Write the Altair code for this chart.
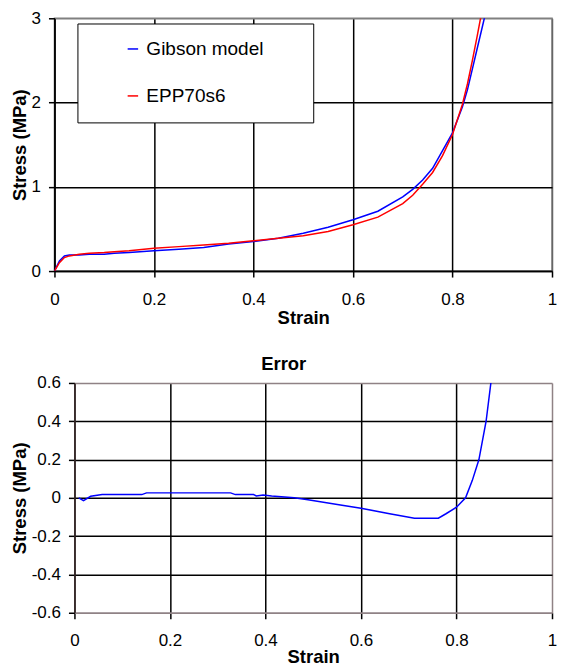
import altair as alt
import pandas as pd

FONT = "Liberation Sans"

# ---- data ----
series_names = ["Gibson model", "EPP70s6"]
series_colors = ["#0000FF", "#FF0000"]

strain_gibson = [0, 0.01, 0.02, 0.03, 0.05, 0.07, 0.1, 0.12, 0.15, 0.2, 0.25, 0.3, 0.35,
                 0.4, 0.45, 0.5, 0.55, 0.6, 0.65, 0.7, 0.72, 0.74, 0.76, 0.78, 0.8,
                 0.82, 0.83, 0.84, 0.85, 0.86, 0.866]
stress_gibson = [0, 0.12, 0.18, 0.19, 0.19, 0.2, 0.2, 0.21, 0.22, 0.24, 0.26, 0.28, 0.32,
                 0.35, 0.39, 0.45, 0.52, 0.61, 0.71, 0.88, 0.97, 1.08, 1.22, 1.43, 1.64,
                 1.95, 2.15, 2.4, 2.65, 2.9, 3.05]

strain_epp = [0, 0.01, 0.02, 0.03, 0.05, 0.07, 0.1, 0.12, 0.15, 0.2, 0.25, 0.3, 0.35,
              0.4, 0.45, 0.5, 0.55, 0.6, 0.65, 0.7, 0.72, 0.74, 0.76, 0.78, 0.8,
              0.82, 0.83, 0.84, 0.85, 0.857]
stress_epp = [0, 0.1, 0.16, 0.18, 0.2, 0.21, 0.22, 0.23, 0.24, 0.27, 0.29, 0.31, 0.33,
              0.36, 0.39, 0.42, 0.47, 0.55, 0.64, 0.8, 0.9, 1.03, 1.17, 1.37, 1.62,
              1.98, 2.22, 2.5, 2.8, 3.02]

strain_err = [0.009, 0.019, 0.034, 0.058, 0.141, 0.151, 0.327, 0.337, 0.375, 0.381, 0.395,
              0.413, 0.44, 0.46, 0.489, 0.557, 0.6, 0.66, 0.712, 0.762, 0.778, 0.8,
              0.819, 0.833, 0.847, 0.862, 0.872, 0.875]
error = [0.0, -0.014, 0.008, 0.017, 0.017, 0.026, 0.026, 0.017, 0.017, 0.01, 0.015,
         0.01, 0.005, 0.0, -0.01, -0.037, -0.054, -0.083, -0.106, -0.106, -0.083, -0.049,
         0.0, 0.09, 0.2, 0.4, 0.6, 0.66]

x_ticks = [0, 0.2, 0.4, 0.6, 0.8, 1]
y_ticks_top = [0, 1, 2, 3]
y_ticks_err = [-0.6, -0.4, -0.2, 0, 0.2, 0.4, 0.6]

df_top = pd.concat([
    pd.DataFrame({"strain": strain_gibson, "stress": stress_gibson, "series": series_names[0]}),
    pd.DataFrame({"strain": strain_epp, "stress": stress_epp, "series": series_names[1]}),
])
df_err = pd.DataFrame({"strain": strain_err, "error": error})

label_expr = "'' + datum.value"
TOP_FRAME = "#808080"
ERR_FRAME = "#8f8285"
W = 498          # plot width (top panel)
ERR_SHIFT = 20   # bottom panel starts further right


def x_axis(domain_color, edge_color, title_pad=1):
    return alt.Axis(
        values=x_ticks, labelExpr=label_expr, title="Strain", labelFlush=False,
        tickSize=6, labelPadding=14, titlePadding=title_pad,
        grid=True, gridWidth=1.5,
        gridColor={"condition": {"test": "datum.value >= 1", "value": edge_color}, "value": "black"},
        domainColor=domain_color, domainWidth=1.5, tickColor="black", tickWidth=1.5,
    )


def y_axis(values, domain_color, top_val, bot_val, edge_color, offset=0):
    return alt.Axis(
        values=values, labelExpr=label_expr, title="Stress (MPa)",
        tickSize=6, labelPadding=8, titlePadding=1.5, offset=offset,
        grid=True, gridWidth=1.5,
        gridColor={"condition": {"test": f"datum.value >= {top_val} || datum.value <= {bot_val}",
                                 "value": edge_color}, "value": "black"},
        domainColor=domain_color, domainWidth=1.5, tickColor="black", tickWidth=1.5,
    )


top = alt.Chart(df_top).mark_line(strokeWidth=1.5, clip=True).encode(
    x=alt.X("strain:Q", scale=alt.Scale(domain=[0, 1], nice=False, zero=False),
            axis=x_axis("black", "#666666")),
    y=alt.Y("stress:Q", scale=alt.Scale(domain=[0, 3], nice=False),
            axis=y_axis(y_ticks_top, "black", 3, -1, TOP_FRAME)),
    color=alt.Color("series:N", sort=series_names,
                    scale=alt.Scale(domain=series_names, range=series_colors),
                    legend=alt.Legend(
                        title=" ", titleFontSize=2, titleOrient="right", titlePadding=34,
                        orient="none", legendX=23, legendY=5.2,
                        strokeColor="black", fillColor="white", padding=16,
                        symbolType="stroke", symbolSize=110, symbolStrokeWidth=1.5,
                        symbolOffset=30, labelOffset=4,
                        labelFont=FONT, labelFontSize=19, labelColor="black",
                        rowPadding=27,
                    )),
).properties(width=W, height=253,
             view=alt.ViewBackground(stroke=TOP_FRAME, strokeWidth=1.5))

bottom = alt.Chart(df_err).mark_line(strokeWidth=1.5, clip=True, color="#0000FF").encode(
    x=alt.X("strain:Q", scale=alt.Scale(domain=[0, 1], range=[ERR_SHIFT, W], nice=False, zero=False),
            axis=x_axis(ERR_FRAME, ERR_FRAME, title_pad=-1.5)),
    y=alt.Y("error:Q", scale=alt.Scale(domain=[-0.6, 0.6], nice=False),
            axis=y_axis(y_ticks_err, "#3a2a2a", 0.6, -0.6, ERR_FRAME, offset=-ERR_SHIFT)),
).properties(width=W, height=230,
             title=alt.Title("Error", fontSize=18.5, font=FONT, fontWeight="bold",
                             anchor="middle", frame="bounds", baseline="alphabetic",
                             offset=-15, color="black"))

chart = alt.concat(top, bottom, columns=1, spacing=27).properties(
    padding={"left": 1.5, "top": 0, "right": 0, "bottom": 0}
).configure_axis(
    labelFont=FONT, labelFontSize=17, labelColor="black",
    titleFont=FONT, titleFontSize=18.5, titleFontWeight="bold", titleColor="black",
).configure_view(stroke=None)

chart.save("out.html", embed_options={"renderer": "svg", "actions": False})
